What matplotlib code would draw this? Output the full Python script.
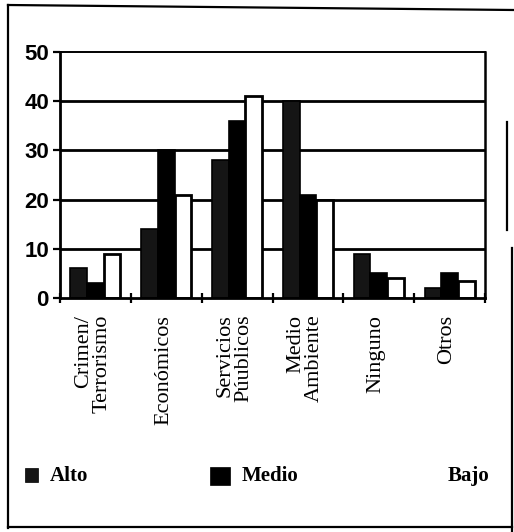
import numpy as np
import matplotlib
matplotlib.use('Agg')
from matplotlib import pyplot as plt
from matplotlib.lines import Line2D
from matplotlib.patches import Rectangle

categories = ['Crimen/\nTerrorismo', 'Económicos', 'Servicios\nPúublicos',
              'Medio\nAmbiente', 'Ninguno', 'Otros']
alto = [6, 14, 28, 40, 9, 2]
medio = [3, 30, 36, 21, 5, 5]
bajo = [9, 21, 41, 20, 4, 3.5]
series_names = ['Alto', 'Medio', 'Bajo']
yticks = [0, 10, 20, 30, 40, 50]

W, H = 514, 532
fig = plt.figure(figsize=(W / 100, H / 100), dpi=100)
fig.patch.set_facecolor('white')


def fx(x):
    return x / W


def fy(y):
    return 1 - y / H


ax = fig.add_axes([fx(60), fy(298), fx(485) - fx(60), fy(52) - fy(298)])

x = np.arange(len(categories)) + 0.5
bw = 0.235

# horizontal grid behind the bars
for v in yticks[1:-1]:
    ax.axhline(v, color='black', lw=2.0, zorder=1)

ax.bar(x - bw, alto, bw, color='#151515', edgecolor='black', lw=1.2, zorder=2)
ax.bar(x, medio, bw, color='black', edgecolor='black', lw=1.2, zorder=2)
ax.bar(x + bw, bajo, bw, color='white', edgecolor='black', lw=2.0, zorder=2)

ax.set_xlim(0, len(categories))
ax.set_ylim(0, 50)
ax.set_xticks(range(len(categories) + 1))
ax.set_xticklabels([])
ax.set_yticks(yticks)
ax.set_yticklabels([str(v) for v in yticks], fontfamily='Liberation Sans',
                   fontweight='bold', fontsize=16)
ax.tick_params(axis='x', direction='inout', length=7, width=1.6)
ax.tick_params(axis='y', direction='out', length=5, width=1.6, pad=3)

for side, lw in [('left', 2.0), ('bottom', 2.0), ('top', 1.4), ('right', 1.8)]:
    ax.spines[side].set_linewidth(lw)
    ax.spines[side].set_zorder(4)

for xi, name in zip(x, categories):
    ax.text(xi - 0.04, -0.068, name, transform=ax.get_xaxis_transform(),
            rotation=90, ha='center', va='top', multialignment='right',
            linespacing=0.95, fontfamily='Liberation Serif', fontsize=16)

# legend row
fig.add_artist(Rectangle((fx(25), fy(482)), fx(38) - fx(25), fy(468) - fy(482),
                         transform=fig.transFigure, facecolor='#151515',
                         edgecolor='black', lw=0.5))
fig.add_artist(Rectangle((fx(210), fy(485)), fx(230) - fx(210), fy(467) - fy(485),
                         transform=fig.transFigure, facecolor='black',
                         edgecolor='black', lw=0.5))
for name, px in zip(series_names, [50, 242, 448]):
    fig.text(fx(px), fy(476), name, ha='left', va='center',
             fontfamily='Liberation Serif', fontweight='bold', fontsize=15)

# outer border
frame = [((8, 5), (514, 10)), ((8, 5), (8, 528)), ((8, 527), (512, 527)),
         ((507, 122), (507, 230)), ((512, 248), (512, 532))]
for (x0, y0), (x1, y1) in frame:
    fig.add_artist(Line2D([fx(x0), fx(x1)], [fy(y0), fy(y1)],
                          transform=fig.transFigure, color='black', lw=1.6))

fig.savefig('out.png', dpi=100)
